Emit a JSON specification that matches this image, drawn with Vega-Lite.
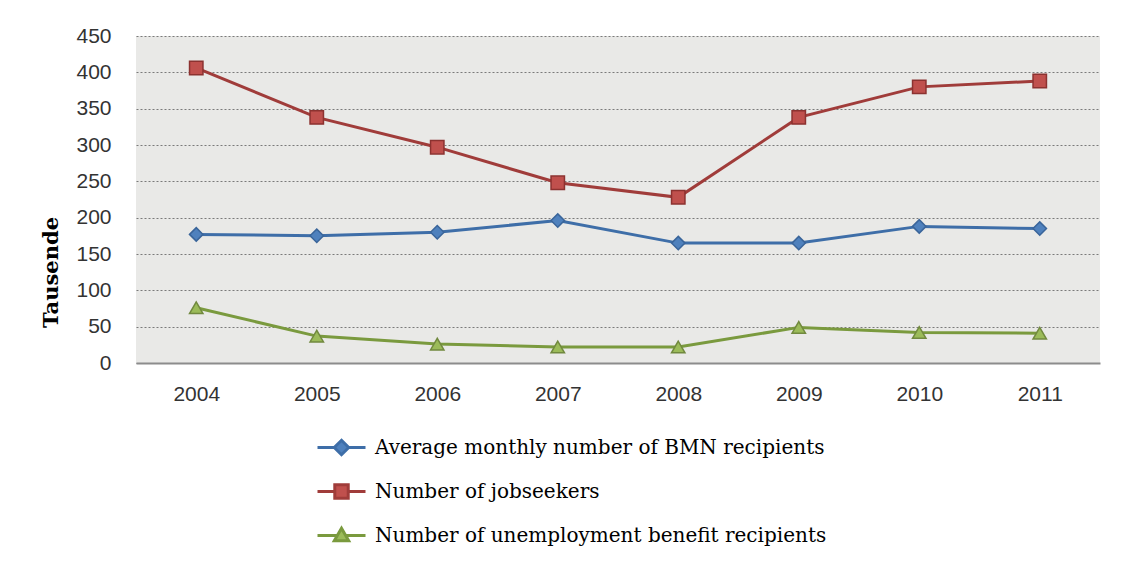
{
  "$schema": "https://vega.github.io/schema/vega-lite/v6.json",
  "autosize": {"type": "none"},
  "width": 964,
  "height": 327,
  "padding": {"left": 136, "top": 36, "right": 23, "bottom": 202},
  "background": "#ffffff",
  "config": {
    "view": {"fill": "#e9e9e7", "stroke": null},
    "axis": {
      "labelFont": "Liberation Sans",
      "labelFontSize": 21,
      "labelColor": "#333333",
      "ticks": false,
      "titleFont": "DejaVu Serif",
      "titleFontWeight": "bold",
      "titleFontSize": 21,
      "titleColor": "#000000"
    }
  },
  "data": {
    "values": [
      {"year": "2004", "series": "Average monthly number of BMN recipients", "value": 177},
      {"year": "2005", "series": "Average monthly number of BMN recipients", "value": 175},
      {"year": "2006", "series": "Average monthly number of BMN recipients", "value": 180},
      {"year": "2007", "series": "Average monthly number of BMN recipients", "value": 196},
      {"year": "2008", "series": "Average monthly number of BMN recipients", "value": 165},
      {"year": "2009", "series": "Average monthly number of BMN recipients", "value": 165},
      {"year": "2010", "series": "Average monthly number of BMN recipients", "value": 188},
      {"year": "2011", "series": "Average monthly number of BMN recipients", "value": 185},
      {"year": "2004", "series": "Number of jobseekers", "value": 406},
      {"year": "2005", "series": "Number of jobseekers", "value": 338},
      {"year": "2006", "series": "Number of jobseekers", "value": 297},
      {"year": "2007", "series": "Number of jobseekers", "value": 248},
      {"year": "2008", "series": "Number of jobseekers", "value": 228},
      {"year": "2009", "series": "Number of jobseekers", "value": 338},
      {"year": "2010", "series": "Number of jobseekers", "value": 380},
      {"year": "2011", "series": "Number of jobseekers", "value": 388},
      {"year": "2004", "series": "Number of unemployment benefit recipients", "value": 76},
      {"year": "2005", "series": "Number of unemployment benefit recipients", "value": 37},
      {"year": "2006", "series": "Number of unemployment benefit recipients", "value": 26},
      {"year": "2007", "series": "Number of unemployment benefit recipients", "value": 22},
      {"year": "2008", "series": "Number of unemployment benefit recipients", "value": 22},
      {"year": "2009", "series": "Number of unemployment benefit recipients", "value": 49},
      {"year": "2010", "series": "Number of unemployment benefit recipients", "value": 42},
      {"year": "2011", "series": "Number of unemployment benefit recipients", "value": 41}
    ]
  },
  "encoding": {
    "x": {
      "field": "year",
      "type": "ordinal",
      "scale": {"type": "point", "padding": 0.5},
      "axis": {
        "title": null,
        "labelAngle": 0,
        "labelPadding": 20,
        "domainColor": "#8c8c8c",
        "domainWidth": 2,
        "grid": false
      }
    },
    "y": {
      "field": "value",
      "type": "quantitative",
      "scale": {"domain": [0, 450], "nice": false},
      "axis": {
        "title": "Tausende",
        "values": [0, 50, 100, 150, 200, 250, 300, 350, 400, 450],
        "labelPadding": 25,
        "domain": false,
        "grid": true,
        "gridColor": "#7a7a7a",
        "gridDash": [2, 2],
        "gridWidth": 1,
        "titleAngle": -90,
        "titleAlign": "center",
        "titleBaseline": "alphabetic",
        "titleX": -79,
        "titleY": 236
      }
    }
  },
  "layer": [
    {
      "mark": {"type": "line", "strokeWidth": 3},
      "encoding": {
        "color": {
          "field": "series",
          "type": "nominal",
          "scale": {
            "domain": ["Average monthly number of BMN recipients", "Number of jobseekers", "Number of unemployment benefit recipients"],
            "range": ["#3e6ea8", "#a03c3a", "#7a9a3e"]
          },
          "legend": {
            "title": null,
            "orient": "none",
            "direction": "vertical",
            "legendX": 180,
            "legendY": 386,
            "padding": 0,
            "symbolSize": 2304,
            "symbolStrokeWidth": 3,
            "labelFont": "DejaVu Serif",
            "labelFontSize": 20,
            "labelColor": "#000000",
            "labelOffset": 8,
            "labelLimit": 600,
            "rowPadding": 5,
            "encode": {
              "symbols": {
                "update": {
                  "shape": {"signal": "datum.value === 'Average monthly number of BMN recipients' ? 'M-1,0H-0.3M0.3,0H1M0,-0.3L0.3,0L0,0.3L-0.3,0Z' : datum.value === 'Number of jobseekers' ? 'M-1,0H-0.28M0.28,0H1M-0.28,-0.28H0.28V0.28H-0.28Z' : 'M-1,0H-0.17M0.17,0H1M0,-0.3L0.3,0.22H-0.3Z'"},
                  "fill": {"signal": "datum.value === 'Average monthly number of BMN recipients' ? '#4f81bd' : datum.value === 'Number of jobseekers' ? '#c0504d' : '#9bbb59'"},
                  "fillOpacity": {"value": 1},
                  "strokeWidth": {"value": 3}
                }
              }
            }
          }
        }
      }
    },
    {
      "mark": {"type": "point", "filled": false, "strokeWidth": 1.5, "size": 180, "opacity": 1},
      "encoding": {
        "shape": {
          "field": "series",
          "type": "nominal",
          "scale": {
            "domain": ["Average monthly number of BMN recipients", "Number of jobseekers", "Number of unemployment benefit recipients"],
            "range": ["diamond", "square", "triangle-up"]
          },
          "legend": null
        },
        "fill": {
          "field": "series",
          "type": "nominal",
          "scale": {
            "domain": ["Average monthly number of BMN recipients", "Number of jobseekers", "Number of unemployment benefit recipients"],
            "range": ["#4f81bd", "#c0504d", "#9bbb59"]
          },
          "legend": null
        },
        "stroke": {
          "field": "series",
          "type": "nominal",
          "scale": {
            "domain": ["Average monthly number of BMN recipients", "Number of jobseekers", "Number of unemployment benefit recipients"],
            "range": ["#3a659a", "#8c3230", "#71893f"]
          },
          "legend": null
        }
      }
    }
  ],
  "resolve": {"scale": {"color": "independent"}}
}
